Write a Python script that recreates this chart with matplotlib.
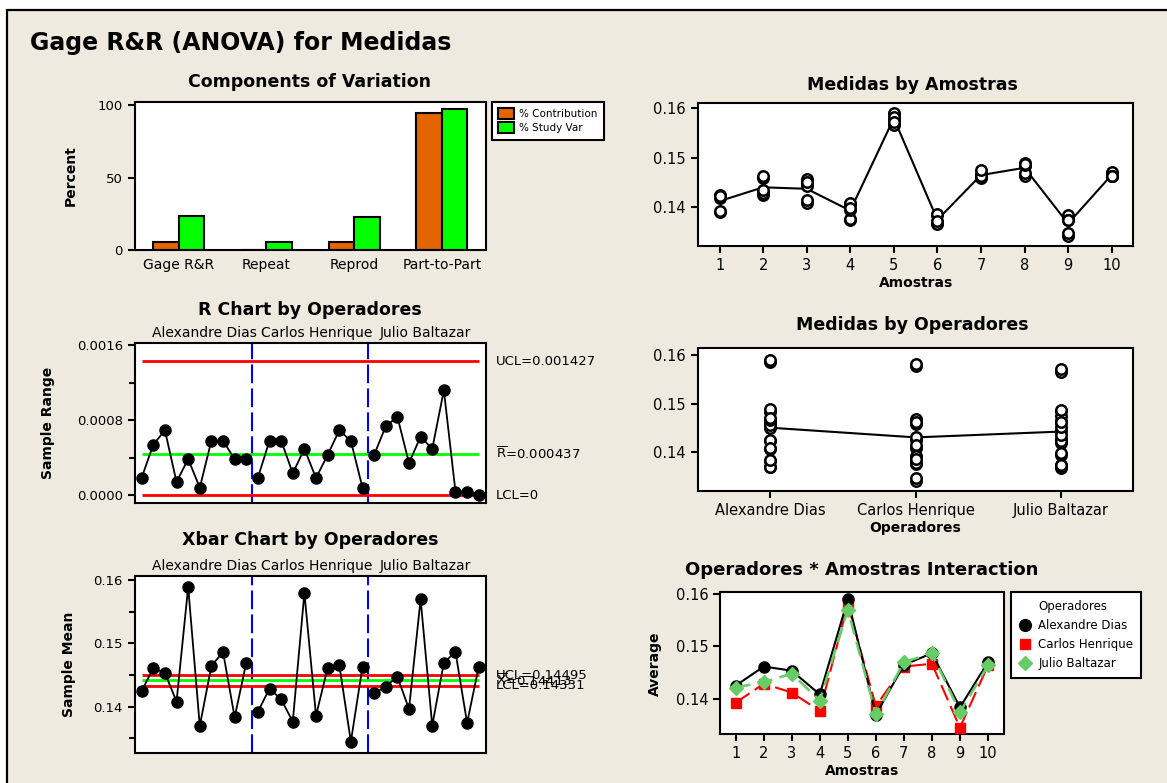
import numpy as np
import matplotlib.pyplot as plt
from matplotlib.patches import Rectangle
from matplotlib.lines import Line2D

# components of variation (%)
components = ['Gage R&R', 'Repeat', 'Reprod', 'Part-to-Part']
pct_contribution = [5.5, 0.3, 5.2, 94.5]
pct_study_var = [23.4, 5.4, 22.8, 97.2]

operators = ['Alexandre Dias', 'Carlos Henrique', 'Julio Baltazar']
amostras = [1, 2, 3, 4, 5, 6, 7, 8, 9, 10]

# sample means per operator / part (2 trials each)
xbar_alexandre = [0.14247, 0.14611, 0.14532, 0.14079, 0.15889, 0.13695, 0.14642, 0.14863, 0.13832, 0.14695]
xbar_carlos = [0.13921, 0.14284, 0.14116, 0.13763, 0.15795, 0.13858, 0.14611, 0.14663, 0.13447, 0.14632]
xbar_julio = [0.14211, 0.14316, 0.14474, 0.13963, 0.15695, 0.13700, 0.14695, 0.14863, 0.13742, 0.14632]

# sample ranges per operator / part
range_alexandre = [0.000185, 0.000538, 0.000691, 0.000139, 0.000385, 0.000078, 0.000581, 0.000581, 0.000381, 0.000381]
range_carlos = [0.000185, 0.000581, 0.000581, 0.000232, 0.000492, 0.000182, 0.000428, 0.000691, 0.000577, 0.000078]
range_julio = [0.000428, 0.000734, 0.000837, 0.000342, 0.000624, 0.000492, 0.001119, 0.000036, 0.000036, 0.0]

ucl_r, rbar, lcl_r = 0.001427, 0.000437, 0.0
ucl_x, xbarbar, lcl_x = 0.14495, 0.14413, 0.14331

xbars = [xbar_alexandre, xbar_carlos, xbar_julio]
ranges = [range_alexandre, range_carlos, range_julio]

W, H = 1167, 783
beige = '#EEEAE0'
orange = '#E36500'
lime = '#00FF00'
softgreen = '#66CC66'

fig = plt.figure(figsize=(W / 100, H / 100), dpi=100)
fig.patch.set_facecolor('white')
fig.patches.append(Rectangle((7 / W, -0.1), 1.2, 1.1 - 10.5 / H, transform=fig.transFigure,
                             facecolor=beige, edgecolor='black', lw=1.6, zorder=-10))


def add_ax(l, t, r, b):
    ax = fig.add_axes([l / W, 1 - b / H, (r - l) / W, (b - t) / H])
    ax.set_facecolor('white')
    for s in ax.spines.values():
        s.set_linewidth(1.5)
    ax.tick_params(direction='out', length=5, width=1.5)
    return ax


def ftext(x, y, s, **kw):
    fig.text(x / W, 1 - y / H, s, **kw)


def ylabel_at(ax, x_px, l, r, text):
    ax.set_ylabel(text, fontsize=10, fontweight='bold')
    ax.yaxis.set_label_coords((x_px - l) / (r - l), 0.5)


ftext(30, 43, 'Gage R&R (ANOVA) for Medidas', fontsize=17, fontweight='bold', va='center')

# ---- Components of Variation
L, R = 134.7, 485.7
ax1 = add_ax(L, 101.7, R, 250)
x = np.arange(len(components))
bw = 0.29
ax1.bar(x - bw / 2, pct_contribution, bw, color=orange, edgecolor='black', lw=1.5, label='% Contribution')
ax1.bar(x + bw / 2, pct_study_var, bw, color=lime, edgecolor='black', lw=1.5, label='% Study Var')
ax1.set_xlim(-0.5, 3.5)
ax1.set_ylim(0, 102.5)
ax1.set_yticks([0, 50, 100])
ax1.set_xticks(x)
ax1.set_xticklabels(components)
ax1.tick_params(axis='x', length=0, labelsize=10, pad=6)
ax1.tick_params(axis='y', labelsize=9.5)
ylabel_at(ax1, 77.6, L, R, 'Percent')
ftext(310, 82, 'Components of Variation', fontsize=12.5, fontweight='bold', ha='center', va='center')
leg = ax1.legend(loc='upper left', bbox_to_anchor=(492 / W, 1 - 102 / H), bbox_transform=fig.transFigure,
                 borderaxespad=0, fontsize=7.5, fancybox=False, edgecolor='black', framealpha=1,
                 handlelength=1.5, handleheight=1.25, borderpad=0.6, labelspacing=0.3, handletextpad=0.5)
leg.get_frame().set_linewidth(1.5)
for p in leg.get_patches():
    p.set_linewidth(1.5)

# ---- R chart and Xbar chart
idx = np.arange(1, 31)
name_x = [6.4, 16.1, 25.4]


def control_chart(t, b, series, ucl, cl, lcl, ylim, yticks, minors, labels, title, ty):
    ax = add_ax(L, t, R, b)
    for k in range(3):
        xs = idx[k * 10:(k + 1) * 10]
        ax.plot(xs, series[k], color='black', lw=1.3, marker='o', ms=8, zorder=4)
    ax.hlines([ucl, lcl], 1, 30, colors='#FF0000', lw=2, zorder=3)
    ax.hlines([cl], 1, 30, colors=lime, lw=2, zorder=3)
    for sep in (10.5, 20.5):
        ax.axvline(sep, color='#0000FF', lw=1.5, ls=(0, (9, 2.5)), zorder=2)
    ax.set_xlim(0.4, 30.6)
    ax.set_ylim(*ylim)
    ax.set_xticks([])
    ax.set_yticks(yticks)
    ax.set_yticks(minors, minor=True)
    ax.tick_params(axis='y', which='minor', direction='out', length=4, width=1.5)
    ax.tick_params(axis='y', labelsize=9.5)
    trans = ax.get_yaxis_transform()
    vals = [ucl, cl, lcl]
    for v, s in zip(vals, labels):
        ax.text(1.029, v, s, transform=trans, fontsize=9.5, va='center', ha='left', clip_on=False)
    ftext(310, ty, title, fontsize=12.5, fontweight='bold', ha='center', va='center')
    for k, name in enumerate(operators):
        ax.text(name_x[k], 1.0 + 10 / (b - t), name, transform=ax.get_xaxis_transform(),
                fontsize=10, ha='center', va='center')
    return ax


ax2 = control_chart(343.3, 503.3, ranges, ucl_r, rbar, lcl_r, (-0.0000885, 0.00162),
                    [0.0, 0.0008, 0.0016], [0.0004, 0.0012],
                    ['UCL=0.001427', r'$\overline{\mathrm{R}}$=0.000437', 'LCL=0'],
                    'R Chart by Operadores', 310)
ax2.set_yticklabels(['0.0000', '0.0008', '0.0016'])
ylabel_at(ax2, 55, L, R, 'Sample Range')

ax3 = control_chart(576, 753.3, xbars, ucl_x, xbarbar, lcl_x, (0.13263, 0.16063),
                    [0.14, 0.15, 0.16], [0.135, 0.145, 0.155],
                    ['UCL=0.14495', r'$\overline{\mathrm{X}}$=0.14413', 'LCL=0.14331'],
                    'Xbar Chart by Operadores', 540)
ax3.set_yticklabels(['0.14', '0.15', '0.16'])
ylabel_at(ax3, 75.5, L, R, 'Sample Mean')

# individual measurements (trial low / high) from mean and range
lows = [np.array(m) - np.array(r) / 2 for m, r in zip(xbars, ranges)]
highs = [np.array(m) + np.array(r) / 2 for m, r in zip(xbars, ranges)]

circ = dict(ls='none', marker='o', ms=7.5, mfc='white', mec='black', mew=1.8, zorder=4)

# ---- Medidas by Amostras
RL, RR = 697.8, 1133.4
ax4 = add_ax(RL, 103.3, RR, 246)
parts = np.array(amostras)
for k in range(3):
    ax4.plot(parts, lows[k], **circ)
    ax4.plot(parts, highs[k], **circ)
part_means = np.mean(np.array(xbars), axis=0)
ax4.plot(parts, part_means, color='black', lw=1.5, zorder=3)
ax4.set_xlim(0.5, 10.5)
ax4.set_ylim(0.13223, 0.16094)
ax4.set_xticks(parts)
ax4.set_yticks([0.14, 0.15, 0.16])
ax4.tick_params(labelsize=10.5)
ax4.set_xlabel('Amostras', fontsize=10, fontweight='bold', labelpad=2)
ftext(912, 85, 'Medidas by Amostras', fontsize=12.5, fontweight='bold', ha='center', va='center')

# ---- Medidas by Operadores
ax5 = add_ax(RL, 348.3, RR, 491)
opx = np.arange(1, 4)
for k in range(3):
    vals = np.concatenate([lows[k], highs[k]])
    ax5.plot(np.full(vals.size, opx[k]), vals, **circ)
op_means = [np.mean(np.concatenate([lo, hi])) for lo, hi in zip(lows, highs)]
ax5.plot(opx, op_means, color='black', lw=1.5, zorder=3)
ax5.set_xlim(0.5, 3.5)
ax5.set_ylim(0.13205, 0.16144)
ax5.set_xticks(opx)
ax5.set_xticklabels(operators)
ax5.set_yticks([0.14, 0.15, 0.16])
ax5.tick_params(labelsize=10.5)
ax5.set_xlabel('Operadores', fontsize=10, fontweight='bold', labelpad=2)
ftext(912, 325, 'Medidas by Operadores', fontsize=12.5, fontweight='bold', ha='center', va='center')

# ---- Interaction
ax6 = add_ax(720, 592.3, 1003.7, 734.3)
ax6.plot(parts, xbar_alexandre, color='black', lw=1.5, marker='o', ms=8, zorder=4)
ax6.plot(parts, xbar_carlos, color='#FF0000', lw=1.5, ls=(0, (8, 3)), marker='s', ms=7, zorder=3)
ax6.plot(parts, xbar_julio, color=softgreen, lw=1.8, ls=(0, (6, 3)), marker='D', ms=7, zorder=5)
ax6.set_xlim(0.44, 10.56)
ax6.set_ylim(0.1332, 0.16025)
ax6.set_xticks(parts)
ax6.set_yticks([0.14, 0.15, 0.16])
ax6.tick_params(labelsize=10.5)
ax6.set_xlabel('Amostras', fontsize=10, fontweight='bold', labelpad=2)
ylabel_at(ax6, 662, 720, 1003.7, 'Average')
ftext(862, 570, 'Operadores * Amostras Interaction', fontsize=13, fontweight='bold', ha='center', va='center')
handles = [Line2D([], [], ls='none', marker=None),
           Line2D([], [], ls='none', marker='o', color='black', ms=8.5),
           Line2D([], [], ls='none', marker='s', color='#FF0000', ms=7.5),
           Line2D([], [], ls='none', marker='D', color=softgreen, ms=7.5)]
leg2 = ax6.legend(handles, ['Operadores'] + operators, loc='upper left',
                  bbox_to_anchor=(1011 / W, 1 - 592 / H), bbox_transform=fig.transFigure,
                  borderaxespad=0, fontsize=8.5, fancybox=False, edgecolor='black', framealpha=1,
                  handlelength=1.0, handletextpad=0.6, labelspacing=0.5, borderpad=0.7)
leg2.get_frame().set_linewidth(1.5)

fig.savefig('out.png', dpi=100, facecolor=fig.get_facecolor())
